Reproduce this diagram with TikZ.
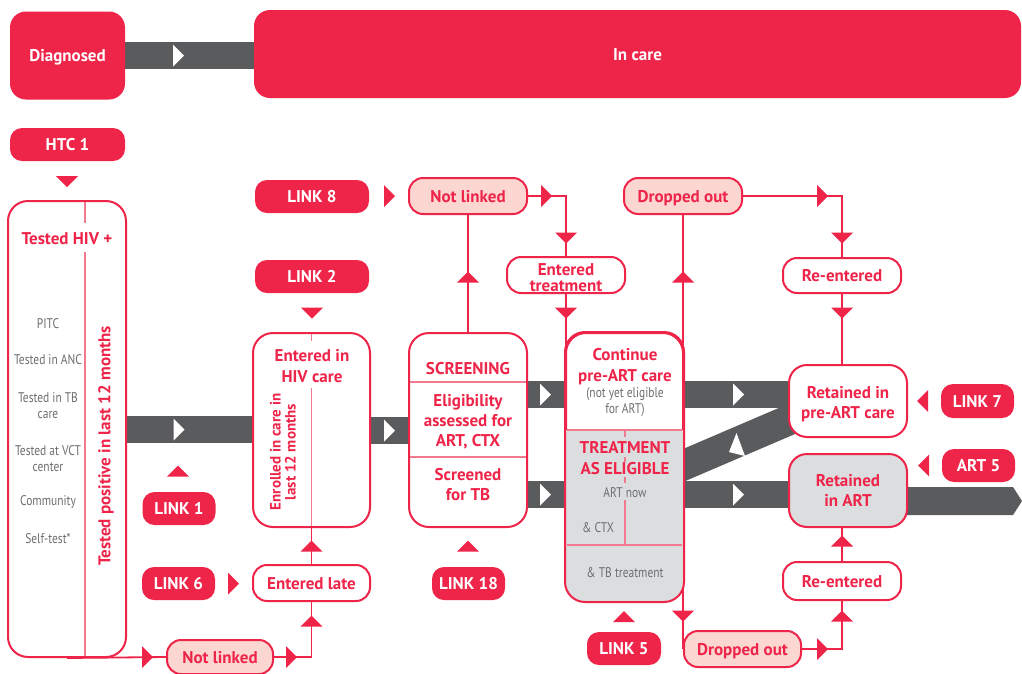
\documentclass[tikz,border=0pt]{standalone}
\usepackage{fontspec}
\setmainfont{PT Sans}
\newfontfamily\gfnt[FakeStretch=0.82]{PT Sans}
\definecolor{hred}{HTML}{EE2449}
\definecolor{hpink}{HTML}{FCD6D0}
\definecolor{hbar}{HTML}{5A5B5D}
\definecolor{hgl}{HTML}{DCDDDF}
\definecolor{hgt}{HTML}{6D6E71}
\definecolor{hdiv}{HTML}{F27A8E}
\pgfdeclarelayer{back}
\pgfdeclarelayer{bg}
\pgfsetlayers{back,bg,main}
\newcommand\trgR[3][hred]{\fill[#1] (#2-5.5,#3-11) -- (#2+5.5,#3) -- (#2-5.5,#3+11) -- cycle;}
\newcommand\trgL[3][hred]{\fill[#1] (#2+5.5,#3-11) -- (#2-5.5,#3) -- (#2+5.5,#3+11) -- cycle;}
\newcommand\trgU[3][hred]{\fill[#1] (#2-11,#3+5.5) -- (#2,#3-5.5) -- (#2+11,#3+5.5) -- cycle;}
\newcommand\trgD[3][hred]{\fill[#1] (#2-11,#3-5.5) -- (#2,#3+5.5) -- (#2+11,#3-5.5) -- cycle;}
\begin{document}
\begin{tikzpicture}[x=1pt,y=-1pt,
 lbl/.style={font=\bfseries\fontsize{17}{21}\selectfont},
 redbox/.style={lbl, fill=hred, text=white, rounded corners=12pt, inner sep=0pt, align=center},
 obox/.style={lbl, draw=hred, line width=2pt, fill=white, text=hred, rounded corners=14pt, inner sep=0pt, align=center},
 pbox/.style={obox, fill=hpink},
 one/.style={text height=12pt, text depth=0pt},
 rtxt/.style={lbl, text=hred, align=center, inner sep=0pt},
 gtxt/.style={font=\gfnt\fontsize{14}{15.5}\selectfont, text=hgt, align=center, inner sep=0pt},
 conn/.style={draw=hred, line width=1.8pt},
 divl/.style={draw=hdiv, line width=1.2pt},
 gbar/.style={draw=hbar, line width=27pt},
]
\useasboundingbox (0,0) rectangle (1022,673);
\begin{pgfonlayer}{back}
\fill[white] (0,0) rectangle (1022,673);
\end{pgfonlayer}

% top banner
\node[redbox, one, minimum width=115pt, minimum height=88pt, rounded corners=16pt] (diag) at (67.5,55.5) {Diagnosed};
\node[redbox, one, minimum width=767pt, minimum height=88pt, rounded corners=16pt] (incare) at (637.5,54) {In care};

% red labels
\node[redbox, one, minimum width=115pt, minimum height=33pt] (htc) at (67.5,144.5) {HTC 1};
\node[redbox, one, minimum width=114pt, minimum height=33pt] (link8) at (312,196.5) {LINK 8};
\node[redbox, one, minimum width=114pt, minimum height=33pt] (link2) at (312,276.5) {LINK 2};
\node[redbox, one, minimum width=73pt, minimum height=33pt] (link1) at (179,508.5) {LINK 1};
\node[redbox, one, minimum width=73pt, minimum height=33pt] (link6) at (178.5,583.5) {LINK 6};
\node[redbox, one, minimum width=73pt, minimum height=33pt] (link18) at (468.5,583.5) {LINK 18};
\node[redbox, one, minimum width=74pt, minimum height=33pt] (link5) at (624,648.5) {LINK 5};
\node[redbox, one, minimum width=73pt, minimum height=34pt] (link7) at (977.5,401) {LINK 7};
\node[redbox, one, minimum width=73pt, minimum height=33pt] (art5) at (978.5,465.5) {ART 5};

% outline boxes
\node[obox, minimum width=118pt, minimum height=456pt, rounded corners=20pt] (tested) at (67,429) {};
\node[obox, minimum width=117pt, minimum height=194pt, rounded corners=20pt] (enteredhiv) at (311.5,430) {};
\node[obox, minimum width=118pt, minimum height=194pt, rounded corners=20pt] (screen) at (468,430) {};
\node[obox, minimum width=117pt, minimum height=268pt, rounded corners=20pt] (tall) at (624.5,467) {};
\begin{scope}
\clip[rounded corners=20pt] (tall.south west) rectangle (tall.north east);
\fill[hgl] (566,430) rectangle (684,602);
\end{scope}
\draw[hred, line width=2pt, rounded corners=20pt] (tall.south west) rectangle (tall.north east);

\node[pbox, one, minimum width=118pt, minimum height=36pt] (notlinkedT) at (468,196) {Not linked};
\node[pbox, one, minimum width=118pt, minimum height=36pt] (droppedT) at (683,196) {Dropped out};
\node[obox, minimum width=118pt, minimum height=36pt] (enteredtreat) at (566,275) {\rule{0pt}{16.5pt}Entered\\[-5pt]treatment};
\node[obox, one, minimum width=118pt, minimum height=35pt] (reenteredT) at (842,275.5) {Re-entered};
\node[obox, minimum width=118pt, minimum height=72pt, rounded corners=18pt] (retpre) at (848,401) {\rule{0pt}{18.5pt}Retained in\\[-1pt]pre-ART care};
\node[obox, fill=hgl, minimum width=118pt, minimum height=73pt, rounded corners=18pt] (retart) at (848,490.5) {Retained\\[-1pt]in ART};
\node[obox, one, minimum width=118pt, minimum height=38pt] (reenteredB) at (842,581) {Re-entered};
\node[pbox, one, minimum width=117pt, minimum height=36pt] (droppedB) at (742.5,649) {Dropped out};
\node[obox, one, minimum width=117pt, minimum height=36pt] (enteredlate) at (311.5,583) {Entered late};
\node[pbox, one, minimum width=106pt, minimum height=34pt] (notlinkedB) at (220,657) {Not linked};

% bars and connectors underneath
\coordinate (yU) at (0,394.5);
\coordinate (yL) at (0,494.5);
\begin{pgfonlayer}{bg}
\draw[gbar] (diag.east) -- (diag.east -| incare.west);
\draw[gbar] (tested.east) -- (tested.east -| enteredhiv.west);
\draw[gbar] (enteredhiv.east) -- (enteredhiv.east -| screen.west);
\draw[gbar] (screen.east |- yU) -- (tall.west |- yU);
\draw[gbar] (screen.east |- yL) -- (tall.west |- yL);
\draw[gbar] (tall.east |- yU) -- (retpre.west |- yU);
\draw[gbar] (tall.east |- yL) -- (retart.west |- yL);
\fill[hbar] (683,449) -- (795,401) -- (795,434) -- (683,482) -- cycle;
\fill[hbar] (900,487) -- (1013,487) -- (1022,501) -- (1013,515) -- (900,515) -- cycle;

\draw[conn] (notlinkedT.east) -| (enteredtreat.north);
\draw[conn] (enteredtreat.south) -- (enteredtreat.south |- tall.west);
\draw[conn] (droppedT.east) -| (reenteredT.north);
\draw[conn] (reenteredT.south) -- (reenteredT.south |- retpre.north);
\draw[conn] (droppedT.south) -- (droppedT.south |- droppedB.west);
\draw[conn] (droppedB.east) -| (reenteredB.south);
\draw[conn] (reenteredB.north) -- (reenteredB.north |- retart.south);
\draw[conn] (screen.north) -- (notlinkedT.south);
\draw[conn] (tested.south) -- (notlinkedB.west);
\draw[conn] (notlinkedB.east) -| (enteredlate.south);
\draw[conn] (enteredlate.north) -- (enteredhiv.south);
\end{pgfonlayer}

% dividers
\draw[divl] (85,202) -- (85,223);
\draw[divl] (85,252) -- (85,656);
\draw[divl] (311.5,334) -- (311.5,341);
\draw[divl] (311.5,388) -- (311.5,526);
\draw[divl] (410,382) -- (526,382);
\draw[divl] (410,457) -- (526,457);
\draw[divl] (567,430) -- (682,430);
\draw[divl] (567,545) -- (682,545);
\draw[divl] (625,430) -- (625,437);
\draw[divl] (625,457) -- (625,462);
\draw[divl] (625,477) -- (625,483);
\draw[divl] (625,500) -- (625,545);

% texts
\node[rtxt] (thiv) at (67,239) {Tested HIV +};
\node[gtxt] (g1) at (48,324) {PITC};
\node[gtxt] (g2) at (48,360) {Tested in ANC};
\node[gtxt] (g3) at (48,405.5) {Tested in TB\\care};
\node[gtxt] (g4) at (48,458.5) {Tested at VCT\\center};
\node[gtxt] (g5) at (48,502) {Community};
\node[gtxt] (g6) at (48,539) {Self-test*};
\node[rtxt, rotate=90] (trot) at (106,446) {Tested positive in last 12 months};
\node[rtxt] (ehiv) at (312,366) {Entered in\\HIV care};
\node[rtxt, rotate=90, font=\bfseries\fontsize{15}{15}\selectfont] (erot) at (283,452) {Enrolled in care in\\last 12 months};
\node[rtxt] (scr) at (468,368.5) {SCREENING};
\node[rtxt, font=\bfseries\fontsize{17}{20}\selectfont] (elig) at (468,421.5) {Eligibility\\assessed for\\ART, CTX};
\node[rtxt, font=\bfseries\fontsize{17}{20}\selectfont] (stb) at (468,484.5) {Screened\\for TB};
\node[rtxt] (cont) at (625,367) {Continue\\pre-ART care};
\node[gtxt, font=\gfnt\fontsize{14}{16}\selectfont] (nye) at (625,402) {(not yet eligible\\for ART)};
\node[rtxt] (tae) at (625,458) {TREATMENT\\AS ELIGIBLE};
\node[gtxt] (artnow) at (625,493) {ART now};
\node[gtxt] (ctx) at (598,528) {\& CTX};
\node[gtxt] (tbt) at (625,573) {\& TB treatment};

% red triangles
\trgD{67}{181.5}
\trgR{389.5}{196}
\trgD{312}{313}
\trgU{178}{471}
\trgR{233.5}{583.5}
\trgU{468}{546}
\trgU{624}{616.5}
\trgL{922.5}{401}
\trgL{923.5}{465.5}
\trgR{546.5}{196}
\trgD{566}{238}
\trgD{566}{313}
\trgR{822.5}{196}
\trgD{842}{238}
\trgD{842}{313}
\trgU{683}{277}
\trgD{683}{616}
\trgR{822.5}{649}
\trgU{842}{616}
\trgU{842}{541}
\trgU{468}{277}
\trgR{147.5}{657}
\trgR{291.5}{657}
\trgU{311.5}{621}
\trgU{311.5}{546}

% white triangles on bars
\trgR[white]{178.5}{55.5}
\trgR[white]{179}{429.5}
\trgR[white]{389.5}{430.5}
\trgR[white]{545.5}{394.5}
\trgR[white]{545.5}{494.5}
\trgR[white]{738.5}{394.5}
\trgR[white]{738.5}{494.5}
\fill[white] (736.5,433) -- (729,452) -- (745,456) -- cycle;
\end{tikzpicture}
\end{document}
